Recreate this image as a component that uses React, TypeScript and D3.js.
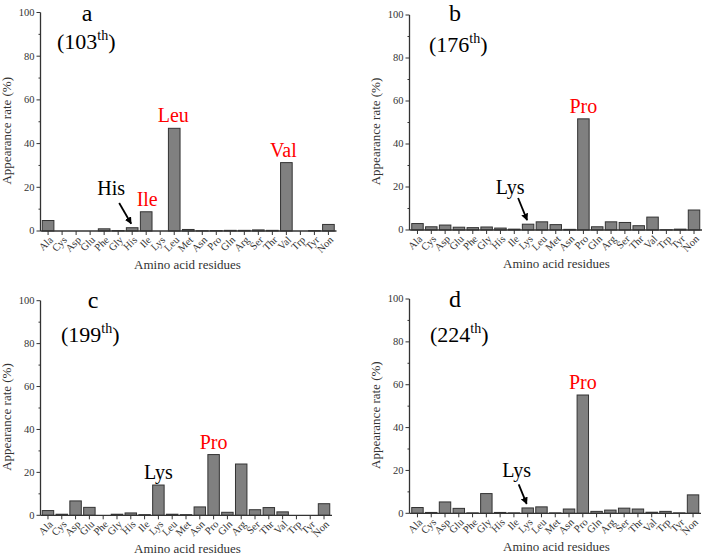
import React from "react";
import * as d3 from "d3";

const categories = ["Ala","Cys","Asp","Glu","Phe","Gly","His","Ile","Lys","Leu","Met","Asn","Pro","Gln","Arg","Ser","Thr","Val","Trp","Tyr","Non"];
const valuesA = [4.8,0,0,0,1.0,0.2,1.5,8.8,0,47.0,0.7,0.1,0.2,0.3,0.3,0.5,0.3,31.3,0,0.2,3.0];
const valuesB = [3.0,1.5,2.3,1.3,1.1,1.4,0.9,0.4,2.7,3.8,2.5,0.3,51.7,1.5,3.8,3.5,2.0,6.0,0.1,0.4,9.3];
const valuesC = [2.2,0.5,6.7,3.7,0,0.5,1.1,0.3,14.1,0.5,0.3,3.9,28.3,1.4,23.9,2.6,3.6,1.6,0,0,5.4];
const valuesD = [2.7,0.4,5.3,2.3,0.2,9.2,0.4,0.2,2.5,3.0,0.2,2.0,55.2,0.9,1.5,2.4,2.0,0.5,0.9,0.2,8.6];
const panelLetters = ["a","b","c","d"];
const positions = ["103","176","199","224"];
const yTicks = [0,20,40,60,80,100];
const yMinor = [10,30,50,70,90];
const xTitle = "Amino acid residues";
const yTitle = "Appearance rate (%)";

type Ann = { cat: string; text: string; color: string; dx: number; arrow?: boolean; ax?: number; ay?: number };
const annA: Ann[] = [
  { cat: "Leu", text: "Leu", color: "#ff0000", dx: -1 },
  { cat: "Val", text: "Val", color: "#ff0000", dx: -3 },
  { cat: "Ile", text: "Ile", color: "#ff0000", dx: 1 },
  { cat: "His", text: "His", color: "#000", dx: -21, arrow: true, ax: 8, ay: 8 },
];
const annB: Ann[] = [
  { cat: "Pro", text: "Pro", color: "#ff0000", dx: 0 },
  { cat: "Lys", text: "Lys", color: "#000", dx: -18, arrow: true, ax: 8, ay: 4 },
];
const annC: Ann[] = [
  { cat: "Pro", text: "Pro", color: "#ff0000", dx: 0 },
  { cat: "Lys", text: "Lys", color: "#000", dx: 0 },
];
const annD: Ann[] = [
  { cat: "Pro", text: "Pro", color: "#ff0000", dx: 0 },
  { cat: "Lys", text: "Lys", color: "#000", dx: -11, arrow: true, ax: 2, ay: 7 },
];

const FONT = "Liberation Serif, Times New Roman, serif";
const serif = { fontFamily: FONT };

type Layout = { axisX: number; x0: number; x1: number; y0: number; y100: number; letterX: number; letterY: number; posX: number; posY: number };
const layouts: Layout[] = [
  { axisX: 40.5, x0: 41, x1: 335.5, y0: 231, y100: 12.5, letterX: 87, letterY: 21, posX: 57, posY: 49 },
  { axisX: 409.5, x0: 410.5, x1: 701, y0: 230, y100: 15, letterX: 455, letterY: 21, posX: 429, posY: 52 },
  { axisX: 40.5, x0: 41, x1: 331, y0: 515.3, y100: 300.7, letterX: 93, letterY: 308, posX: 61, posY: 342 },
  { axisX: 409.5, x0: 410.5, x1: 700, y0: 513.3, y100: 299, letterX: 455, letterY: 307, posX: 430, posY: 342 },
];

function Panel({ values, ann, layout, letter, pos, id }: { values: number[]; ann: Ann[]; layout: Layout; letter: string; pos: string; id: number }) {
  const x = d3.scaleBand<string>().domain(categories).range([layout.x0, layout.x1]).paddingInner(0.17).paddingOuter(0.09);
  const y = d3.scaleLinear().domain([0, 100]).range([layout.y0, layout.y100]);
  const bw = x.bandwidth();
  const axisColor = "#333";
  return (
    <g style={serif}>
      {categories.map((c, i) =>
        values[i] > 0 ? (
          <rect key={c} x={x(c)!} y={y(values[i])} width={bw} height={y(0) - y(values[i])} fill="#808080" stroke="#333" strokeWidth={1} />
        ) : null
      )}
      <line x1={layout.axisX} x2={layout.axisX} y1={y(0)} y2={y(100)} stroke={axisColor} strokeWidth={1.3} />
      {yTicks.map((t) => (
        <g key={t}>
          <line x1={layout.axisX - 4} x2={layout.axisX} y1={y(t)} y2={y(t)} stroke={axisColor} strokeWidth={1} />
          <text x={layout.axisX - 6} y={y(t)} dy="0.33em" textAnchor="end" fontSize={10.5} fill="#333" style={serif}>{t}</text>
        </g>
      ))}
      {yMinor.map((t) => (
        <line key={t} x1={layout.axisX - 2} x2={layout.axisX} y1={y(t)} y2={y(t)} stroke={axisColor} strokeWidth={1} />
      ))}
      <line x1={layout.axisX} x2={layout.x1 + 1} y1={y(0)} y2={y(0)} stroke={axisColor} strokeWidth={1.3} />
      {categories.map((c) => {
        const cx = x(c)! + bw / 2;
        return (
          <g key={c}>
            <line x1={cx} x2={cx} y1={y(0)} y2={y(0) + 4} stroke={axisColor} strokeWidth={1} />
            <text transform={`translate(${cx + 1},${y(0) + 5}) rotate(-45)`} dy="0.62em" textAnchor="end" fontSize={10.5} fill="#333" style={serif}>{c}</text>
          </g>
        );
      })}
      <text x={layout.axisX + 147} y={y(0) + 38} textAnchor="middle" fontSize={13} fill="#333" style={serif}>{xTitle}</text>
      <text transform={`translate(${layout.axisX - 30},${(y(0) + y(100)) / 2 + 9}) rotate(-90)`} textAnchor="middle" fontSize={13} fill="#333" style={serif}>{yTitle}</text>
      <text x={layout.letterX} y={layout.letterY} textAnchor="middle" fontSize={24} fill="#000" style={serif}>{letter}</text>
      <text x={layout.posX} y={layout.posY} fontSize={22} fill="#000" style={serif}>
        ({pos}<tspan fontSize={14} dy={-9}>th</tspan><tspan dy={9}>)</tspan>
      </text>
      {ann.map((a) => {
        const i = categories.indexOf(a.cat);
        const cx = x(a.cat)! + bw / 2;
        const top = y(values[i]);
        if (a.arrow) {
          const lx = cx + a.dx;
          const ly = y(0) - 36;
          return (
            <g key={a.cat}>
              <text x={lx} y={ly} textAnchor="middle" fontSize={20} fill={a.color} style={serif}>{a.text}</text>
              <line x1={lx + (a.ax || 0)} y1={ly + (a.ay || 0)} x2={cx - 1} y2={top - 4} stroke="#000" strokeWidth={1.8} markerEnd={`url(#arr${id})`} />
            </g>
          );
        }
        return (
          <text key={a.cat} x={cx + a.dx} y={top - 6} textAnchor="middle" fontSize={20} fill={a.color} style={serif}>{a.text}</text>
        );
      })}
      <defs>
        <marker id={`arr${id}`} viewBox="0 0 10 10" refX={9} refY={5} markerWidth={4} markerHeight={4} orient="auto" markerUnits="strokeWidth">
          <path d="M0,0 L10,5 L0,10 z" fill="#000" />
        </marker>
      </defs>
    </g>
  );
}

export default function App() {
  const all = [valuesA, valuesB, valuesC, valuesD];
  const anns = [annA, annB, annC, annD];
  return (
    <svg width={705} height={557} style={{ position: "absolute", left: 0, top: 0, background: "#fff" }}>
      <rect width={705} height={557} fill="#fff" />
      {all.map((v, i) => (
        <Panel key={i} id={i} values={v} ann={anns[i]} layout={layouts[i]} letter={panelLetters[i]} pos={positions[i]} />
      ))}
    </svg>
  );
}
